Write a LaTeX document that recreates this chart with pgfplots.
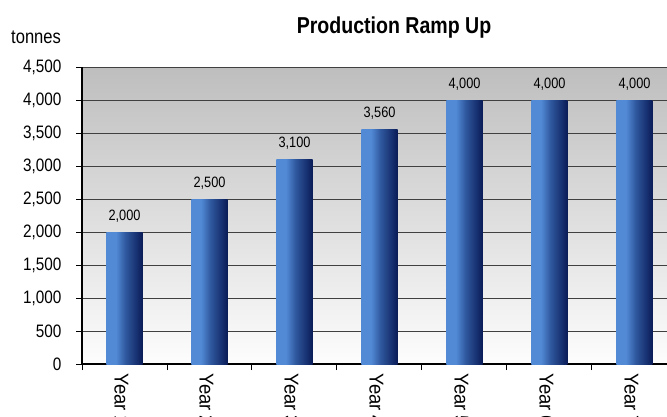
\documentclass[border=0pt]{standalone}
\usepackage{pgfplots}
\pgfplotsset{compat=1.18}
\usepackage{fontspec}
\setmainfont{Liberation Sans}[FakeStretch=0.85]
\newfontfamily\yearfont{Liberation Sans}[FakeStretch=0.92]
\definecolor{bl}{RGB}{82,138,214}
\definecolor{bm}{RGB}{46,86,156}
\definecolor{bd}{RGB}{10,28,88}
\definecolor{bgtop}{RGB}{190,190,190}
\definecolor{bgbot}{RGB}{253,253,253}
\pgfdeclarehorizontalshading{barshade}{100bp}{color(0bp)=(bl); color(25bp)=(bl); color(38bp)=(bl); color(52bp)=(bm); color(75bp)=(bd); color(100bp)=(bd)}
\begin{document}
\begin{tikzpicture}[x=1pt,y=1pt]
\path[use as bounding box, clip] (0,0) rectangle (667,416);
\begin{axis}[
    at={(82pt,52pt)}, anchor=south west,
    scale only axis,
    width=595pt, height=297pt,
    xmin=0.5, xmax=7.5,
    ymin=0, ymax=4500,
    ytick={0,500,...,4500},
    xtick={1,...,7},
    xticklabels={Year 1,Year 2,Year 3,Year 4,Year 5,Year 6,Year 7},
    minor xtick={0.5,1.5,...,7.5},
    tick align=outside,
    major tick length=6pt,
    minor tick length=6pt,
    major x tick style={draw=none},
    minor x tick style={black, line width=1pt},
    major y tick style={black, line width=1pt},
    axis x line*=bottom,
    axis y line*=left,
    axis line style={black, line width=1.6pt, -},
    ymajorgrids,
    major grid style={black!75, line width=0.9pt},
    axis background/.style={top color=bgtop, bottom color=bgbot},
    /pgf/number format/.cd, 1000 sep={,}, assume math mode=true,
    /pgfplots/.cd,
    yticklabel style={font=\fontsize{18}{18}\selectfont, xshift=-11pt},
    xticklabel style={font=\yearfont\fontsize{20}{20}\selectfont, rotate=-90, anchor=west, yshift=-3pt},
    bars/.style={ybar, bar width=36pt, bar shift=0pt, draw=none, shade, shading=barshade,
      nodes near coords,
      nodes near coords style={font=\fontsize{15}{15}\selectfont, text=black, anchor=south, yshift=6pt}},
  ]
\addplot[bars] coordinates {(1,2000)};
\addplot[bars] coordinates {(2,2500)};
\addplot[bars] coordinates {(3,3100)};
\addplot[bars] coordinates {(4,3560)};
\addplot[bars] coordinates {(5,4000)};
\addplot[bars] coordinates {(6,4000)};
\addplot[bars] coordinates {(7,4000)};
\end{axis}
\node[font=\bfseries\fontsize{23}{23}\selectfont] at (394,388) {Production Ramp Up};
\node[font=\fontsize{19.5}{19.5}\selectfont, anchor=west, inner sep=0pt] at (11,379) {tonnes};
\end{tikzpicture}
\end{document}
